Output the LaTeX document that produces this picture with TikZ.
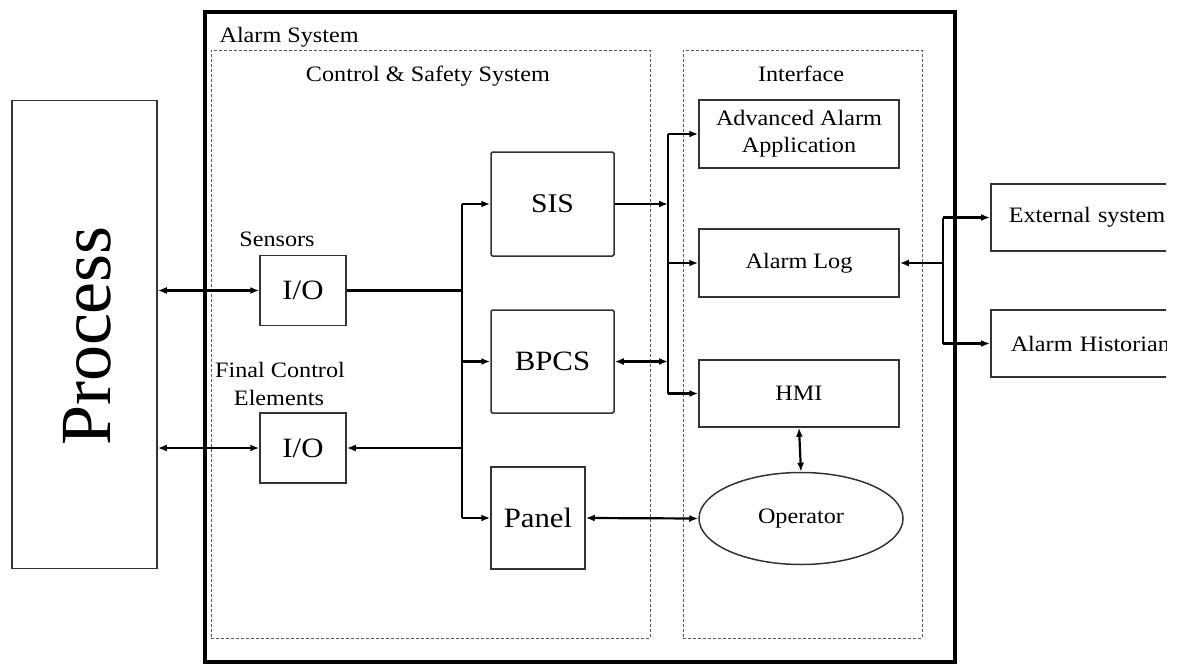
\documentclass[tikz,border=0pt]{standalone}
\usepackage{fontspec}
\setmainfont[FakeStretch=1.1]{Liberation Serif}
\newfontfamily\procfont{Liberation Serif}
\usetikzlibrary{arrows.meta,shapes.geometric}
\begin{document}
\begin{tikzpicture}[x=1pt,y=-1pt,
  box/.style={draw=black!80, line width=1.5pt, rounded corners=1.5pt, inner sep=0pt},
  sqbox/.style={draw=black!80, line width=1.5pt, inner sep=0pt},
  grp/.style={draw=black!65, line width=1pt, dash pattern=on 3pt off 2pt, inner sep=0pt},
  lbl/.style={font=\fontsize{22}{28}\selectfont},
  big/.style={font=\fontsize{28}{32}\selectfont},
  conn/.style={line width=2.2pt, black},
  tip/.tip={Latex[length=9pt,width=7pt]},
  arr/.style={conn,-tip},
  darr/.style={conn,tip-tip}]
\useasboundingbox (0,0) rectangle (1179,664);
\clip (0,0) rectangle (1166,664);
% containers
\node[draw=black, line width=3.2pt, minimum width=750pt, minimum height=650pt, inner sep=0pt] (alarm) at (580,337) {};
\node[anchor=base west, lbl] (alarmlbl) at (216,42) {Alarm System};
\node[grp, minimum width=439pt, minimum height=588pt] (css) at (430.5,344) {};
\node[anchor=base, lbl] (csslbl) at (428,81) {Control \& Safety System};
\node[grp, minimum width=239pt, minimum height=588pt] (intf) at (802.5,344) {};
\node[anchor=base, lbl] (intflbl) at (801,81) {Interface};
% process
\node[sqbox, minimum width=145pt, minimum height=468pt] (proc) at (84.5,334.5) {};
\node[rotate=90, font=\procfont\fontsize{72}{80}\selectfont] (proctxt) at (87,336) {Process};
% I/O
\node[sqbox, minimum width=86pt, minimum height=70pt, big] (io1) at (303,290.5) {I/O};
\node[sqbox, minimum width=86pt, minimum height=70pt, big] (io2) at (303,448) {I/O};
\node[anchor=base, lbl] (sens) at (277,246) {Sensors};
\node[anchor=base, lbl] (fce1) at (280,377) {Final Control};
\node[anchor=base, lbl] (fce2) at (279,405) {Elements};
% control boxes
\node[box, minimum width=123pt, minimum height=104pt, font=\fontsize{27}{32}\selectfont] (sis) at (552.5,204) {SIS};
\node[box, minimum width=123pt, minimum height=103pt, big] (bpcs) at (552.5,361.5) {BPCS};
\node[sqbox, minimum width=94pt, minimum height=102pt, big] (panel) at (538,518) {Panel};
% interface boxes
\node[sqbox, minimum width=200pt, minimum height=68pt, lbl, align=center] (adv) at (799,134) {Advanced Alarm\\[-1pt]Application};
\node[sqbox, minimum width=200pt, minimum height=68pt, lbl] (log) at (799,263) {Alarm Log};
\node[sqbox, minimum width=200pt, minimum height=67pt, lbl] (hmi) at (799,393.5) {HMI};
\node[ellipse, draw=black!80, line width=1.5pt, minimum width=204pt, minimum height=92pt, inner sep=0pt, lbl] (op) at (801,518.5) {Operator};
% external
\node[sqbox, minimum height=67pt, text width=190pt, inner xsep=18pt, align=left, anchor=west, lbl] (ext) at (990,217.5) {External system};
\node[sqbox, minimum height=67pt, text width=190pt, inner xsep=20pt, align=left, anchor=west, lbl] (hist) at (990,343.5) {Alarm Historian};
% bus coordinates
\coordinate (bx) at (462,0);
\coordinate (rx) at (668,0);
\coordinate (fx) at (943,0);
% left connectors
\draw[darr] (proc.east |- io1.west) -- (io1.west);
\draw[darr] (proc.east |- io2.west) -- (io2.west);
\draw[conn] (io1.east) -- (io1.east -| bx);
\draw[conn] (sis.west -| bx) -- (panel.west -| bx);
\draw[arr] (sis.west -| bx) -- (sis.west);
\draw[arr] (bpcs.west -| bx) -- (bpcs.west);
\draw[arr] (panel.west -| bx) -- (panel.west);
\draw[arr] (io2.east -| bx) -- (io2.east);
% middle connectors
\draw[conn] (adv.west -| rx) -- (hmi.west -| rx);
\draw[arr] (sis.east) -- (sis.east -| rx);
\draw[darr] (bpcs.east) -- (bpcs.east -| rx);
\draw[arr] (adv.west -| rx) -- (adv.west);
\draw[arr] (log.west -| rx) -- (log.west);
\draw[arr] (hmi.west -| rx) -- (hmi.west);
\draw[darr] (hmi.south) -- (op.north);
\draw[darr] (panel.east) -- (op.west);
% right connectors
\draw[conn] (ext.west -| fx) -- (hist.west -| fx);
\draw[arr] (log.east -| fx) -- (log.east);
\draw[arr] (ext.west -| fx) -- (ext.west);
\draw[arr] (hist.west -| fx) -- (hist.west);
\end{tikzpicture}
\end{document}
